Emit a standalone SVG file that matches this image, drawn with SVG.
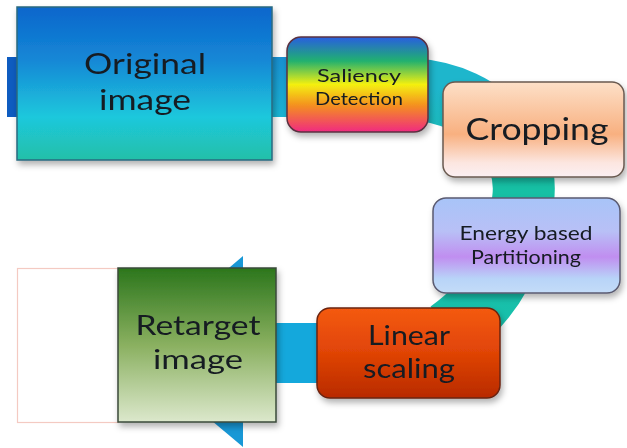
<svg xmlns="http://www.w3.org/2000/svg" width="627" height="448" viewBox="0 0 627 448">
<defs>
<filter id="sh" x="-10%" y="-10%" width="125%" height="130%">
<feDropShadow dx="2" dy="4" stdDeviation="3" flood-color="#000" flood-opacity="0.3"/>
</filter>
<linearGradient id="gOrig" x1="0" y1="0" x2="0" y2="1">
<stop offset="0" stop-color="#0a66cc"/>
<stop offset="0.35" stop-color="#1588d6"/>
<stop offset="0.72" stop-color="#1ec8dc"/>
<stop offset="1" stop-color="#22c0a8"/>
</linearGradient>
<linearGradient id="gSal" x1="0" y1="0" x2="0" y2="1">
<stop offset="0" stop-color="#2a5ee0"/>
<stop offset="0.25" stop-color="#20b070"/>
<stop offset="0.5" stop-color="#f4f010"/>
<stop offset="0.72" stop-color="#f49020"/>
<stop offset="1" stop-color="#f02a80"/>
</linearGradient>
<linearGradient id="gCrop" x1="0" y1="0" x2="0" y2="1">
<stop offset="0" stop-color="#fde0c8"/>
<stop offset="0.55" stop-color="#f8b080"/>
<stop offset="0.85" stop-color="#fce6e0"/>
<stop offset="1" stop-color="#fbeff2"/>
</linearGradient>
<linearGradient id="gEn" x1="0" y1="0" x2="0" y2="1">
<stop offset="0" stop-color="#a8c4f8"/>
<stop offset="0.35" stop-color="#b8c0f6"/>
<stop offset="0.62" stop-color="#c08ef0"/>
<stop offset="0.85" stop-color="#b8d4f8"/>
<stop offset="1" stop-color="#c4dcf8"/>
</linearGradient>
<linearGradient id="gLin" x1="0" y1="0" x2="0" y2="1">
<stop offset="0" stop-color="#f45a12"/>
<stop offset="0.5" stop-color="#e04406"/>
<stop offset="1" stop-color="#b82a02"/>
</linearGradient>
<linearGradient id="gRet" x1="0" y1="0" x2="0" y2="1">
<stop offset="0" stop-color="#2c761c"/>
<stop offset="0.5" stop-color="#8ab060"/>
<stop offset="1" stop-color="#dce8cc"/>
</linearGradient>
<linearGradient id="gBand" x1="0" y1="0" x2="0" y2="1">
<stop offset="0" stop-color="#1eb6cc"/>
<stop offset="0.4" stop-color="#16c0a4"/>
<stop offset="1" stop-color="#18c0ac"/>
</linearGradient>
<linearGradient id="gBlue" x1="0" y1="0" x2="0" y2="1">
<stop offset="0" stop-color="#1890d2"/>
<stop offset="1" stop-color="#1ab4d2"/>
</linearGradient>
<style>
text{font-family:Lato,"Open Sans","DejaVu Sans",sans-serif;fill:#141a22;text-anchor:middle}
.box{filter:url(#sh)}
</style>
</defs>

<g id="connectors">
<rect x="7" y="57" width="14" height="60" fill="#0e5cc0"/>
<rect x="262" y="57" width="34" height="60" fill="url(#gBlue)"/>
<path d="M 412 89 C 490 95, 530 150, 523 200 C 518 250, 495 300, 448 332" fill="none" stroke="url(#gBand)" stroke-width="62"/>
<rect x="270" y="323" width="52" height="60" fill="#14a8dc"/>
<polygon points="243,256 243,447 130,352" fill="#1898d6"/>
</g>

<g id="blank">
<rect x="17.5" y="268.5" width="101" height="154" fill="#fff" stroke="#f4cac2" stroke-width="1.2"/>
</g>

<g id="original" class="box">
<rect x="17" y="7" width="255" height="153" fill="url(#gOrig)" stroke="#2a6a80" stroke-width="1.5"/>
<text x="145" y="74" font-size="29" textLength="122" lengthAdjust="spacingAndGlyphs">Original</text>
<text x="145" y="110" font-size="29" textLength="92" lengthAdjust="spacingAndGlyphs">image</text>
</g>

<g id="saliency" class="box">
<rect x="287" y="37" width="141" height="95" rx="14" fill="url(#gSal)" stroke="#5a3040" stroke-width="1.5"/>
<text x="359" y="82" font-size="18" textLength="84" lengthAdjust="spacingAndGlyphs">Saliency</text>
<text x="359" y="105" font-size="18" textLength="88" lengthAdjust="spacingAndGlyphs">Detection</text>
</g>

<g id="cropping" class="box">
<rect x="443" y="82" width="181" height="95" rx="12" fill="url(#gCrop)" stroke="#6a5a50" stroke-width="1.5"/>
<text x="537" y="140" font-size="30" textLength="143" lengthAdjust="spacingAndGlyphs">Cropping</text>
</g>

<g id="energy" class="box">
<rect x="433" y="198" width="187" height="95" rx="13" fill="url(#gEn)" stroke="#5a5a70" stroke-width="1.5"/>
<text x="526" y="240" font-size="19" textLength="133" lengthAdjust="spacingAndGlyphs">Energy based</text>
<text x="526" y="264" font-size="19" textLength="110" lengthAdjust="spacingAndGlyphs">Partitioning</text>
</g>

<g id="linear" class="box">
<rect x="317" y="308" width="183" height="90" rx="13" fill="url(#gLin)" stroke="#6a2410" stroke-width="1.5"/>
<text x="409" y="345" font-size="27" textLength="82" lengthAdjust="spacingAndGlyphs">Linear</text>
<text x="409" y="378" font-size="27" textLength="92" lengthAdjust="spacingAndGlyphs">scaling</text>
</g>

<g id="retarget" class="box">
<rect x="118" y="268" width="158" height="154" fill="url(#gRet)" stroke="#3a4a3a" stroke-width="1.5"/>
<text x="198" y="335" font-size="27" textLength="125" lengthAdjust="spacingAndGlyphs">Retarget</text>
<text x="198" y="369" font-size="27" textLength="90" lengthAdjust="spacingAndGlyphs">image</text>
</g>
</svg>
